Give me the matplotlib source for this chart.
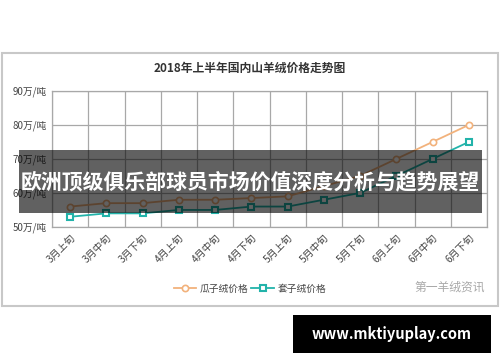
import matplotlib.pyplot as plt
from matplotlib.patches import Rectangle

plt.rcParams['font.family'] = ['Noto Sans CJK SC', 'DejaVu Sans']

# 数据
periods = ["3月上旬", "3月中旬", "3月下旬", "4月上旬", "4月中旬", "4月下旬",
           "5月上旬", "5月中旬", "5月下旬", "6月上旬", "6月中旬", "6月下旬"]
guazi = [56, 57, 57, 58, 58, 58.5, 59, 62, 65, 70, 75, 80]
taozi = [53, 54, 54, 55, 55, 56, 56, 58, 60, 65, 70, 75]
yticks = [50, 60, 70, 80, 90]

fig = plt.figure(figsize=(5, 3.62), dpi=100)

# chart frame
fig.patches.append(Rectangle((0.004, 0.155), 0.992, 0.699, transform=fig.transFigure,
                             fill=False, edgecolor="#c8c8c8", lw=1.5, zorder=0))

ax = fig.add_axes([0.104, 0.373, 0.87, 0.376])
x = range(len(periods))
ax.plot(x, guazi, color="#f2b27c", lw=1.3, marker="o", ms=4.5,
        mfc="white", mec="#f2b27c", mew=1.2, label="瓜子绒价格")
ax.plot(x, taozi, color="#22b3aa", lw=1.3, marker="s", ms=5,
        mfc="white", mec="#22b3aa", mew=1.5, label="套子绒价格")

ax.set_xlim(-0.5, len(periods) - 0.5)
ax.set_ylim(50, 90)
ax.set_yticks(yticks)
ax.set_yticklabels([f"{v}万/吨" for v in yticks], fontsize=7, color="#444444")
ax.set_xticks(x)
ax.set_xticklabels(periods, rotation=45, ha="right", rotation_mode="anchor",
                   fontsize=7.2, color="#444444")
ax.set_xticks([i - 0.5 for i in range(len(periods) + 1)], minor=True)
ax.tick_params(axis="both", which="both", length=0, pad=4)
ax.grid(True, which="minor", axis="x", color="#a8a8a8", lw=0.9)
ax.grid(True, which="major", axis="y", color="#a8a8a8", lw=0.9)
for s in ax.spines.values():
    s.set_color("#a8a8a8")
    s.set_linewidth(0.9)

fig.text(0.5, 0.812, "2018年上半年国内山羊绒价格走势图", ha="center", va="center",
         fontsize=8.5, fontweight="bold", color="#333333")

fig.legend(loc="center", bbox_to_anchor=(0.5, 0.202), ncol=2, frameon=False,
           fontsize=7, handlelength=2.3, columnspacing=0.3, handletextpad=0.4,
           labelcolor="#444444")

fig.text(0.97, 0.207, "第一羊绒资讯", ha="right", va="center", fontsize=8.5, color="#a8a8a8")

# overlay banner
fig.patches.append(Rectangle((0.038, 0.412), 0.926, 0.174, transform=fig.transFigure,
                             facecolor="black", alpha=0.62, zorder=5))
fig.text(0.501, 0.497, "欧洲顶级俱乐部球员市场价值深度分析与趋势展望", ha="center", va="center",
         fontsize=15, fontweight="bold", color="white", zorder=6)

fig.patches.append(Rectangle((0.586, 0.025), 0.396, 0.105, transform=fig.transFigure,
                             facecolor="black", zorder=5))
fig.text(0.784, 0.077, "www.mktiyuplay.com", ha="center", va="center",
         fontsize=10.5, fontweight="bold", color="white", zorder=6)

fig.savefig("out.png", dpi=100)
